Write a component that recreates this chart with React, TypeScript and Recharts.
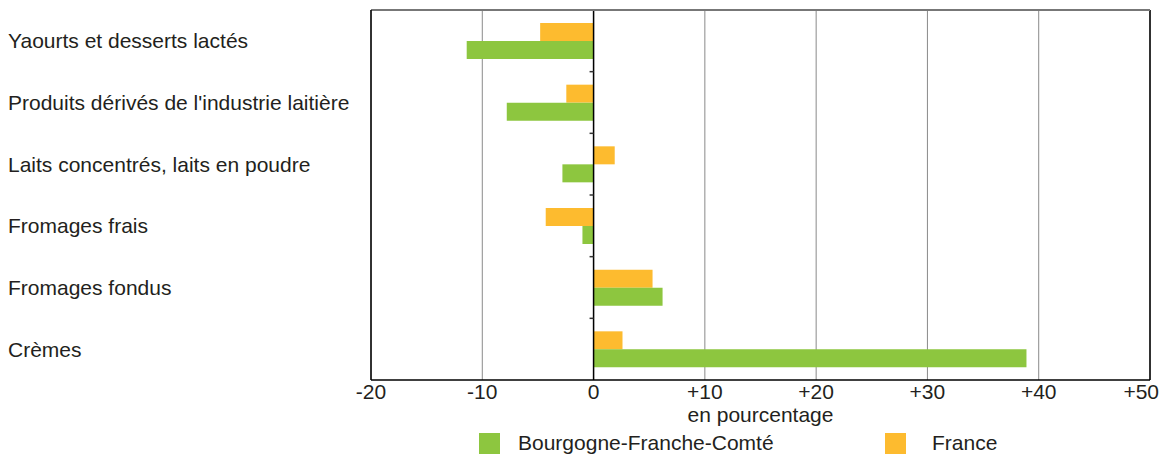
import React from 'react';
import { BarChart, Bar, XAxis, YAxis, CartesianGrid, ReferenceLine } from 'recharts';

// Évolution par produit laitier, en pourcentage
const categories = [
  'Yaourts et desserts lactés',
  "Produits dérivés de l'industrie laitière",
  'Laits concentrés, laits en poudre',
  'Fromages frais',
  'Fromages fondus',
  'Crèmes',
];
const bfcValues = [-11.4, -7.8, -2.8, -1.0, 6.2, 38.9];
const franceValues = [-4.8, -2.45, 1.9, -4.3, 5.3, 2.6];
const xTicks = [-20, -10, 0, 10, 20, 30, 40, 50];

const seriesNames = ['Bourgogne-Franche-Comté', 'France'];
const GREEN = '#8DC63F';
const ORANGE = '#FDBB2F';
const TEXT = '#231F20';
const FONT = '"Liberation Sans", Arial, sans-serif';
const FS = 21;

const data = categories.map((name, i) => ({
  name,
  bfc: bfcValues[i],
  france: franceValues[i],
}));

const CategoryTick = (props: any) => {
  const { y, payload } = props;
  return (
    <text x={8} y={y} textAnchor="start" dominantBaseline="central" fontSize={FS} fill={TEXT} fontFamily={FONT}>
      {payload.value}
    </text>
  );
};

const fmt = (v: number) => (v > 0 ? `+${v}` : `${v}`);

// last label is pulled in so it stays inside the picture
const ValueTick = (props: any) => {
  const { x, y, payload } = props;
  const last = payload.value === xTicks[xTicks.length - 1];
  return (
    <text
      x={last ? x + 9 : x}
      y={y}
      dy={11}
      textAnchor={last ? 'end' : 'middle'}
      fontSize={FS}
      fill={TEXT}
      fontFamily={FONT}
    >
      {fmt(payload.value)}
    </text>
  );
};

// zero line with small ticks at the category boundaries
const ZeroLine = (props: any) => {
  const { x1, y1, y2 } = props;
  const step = (y2 - y1) / categories.length;
  const marks = categories.slice(1).map((_, i) => y1 + step * (i + 1));
  return (
    <g>
      <line x1={x1} y1={y1} x2={x1} y2={y2} stroke="#000" strokeWidth={1.5} />
      {marks.map((m, i) => (
        <line key={i} x1={x1 - 4} y1={m} x2={x1} y2={m} stroke="#333" strokeWidth={1.5} />
      ))}
    </g>
  );
};

const App = () => {
  return (
    <div style={{ position: 'absolute', left: 0, top: 0, width: 1163, height: 455, background: '#fff', fontFamily: FONT }}>
      <BarChart
        width={1163}
        height={455}
        data={data}
        layout="vertical"
        margin={{ top: 9, right: 13, bottom: 45, left: 0 }}
        barGap={0}
        barSize={18}
      >
        <CartesianGrid horizontal={false} stroke="#8a8a8a" />
        <XAxis
          type="number"
          domain={[-20, 50]}
          ticks={xTicks}
          interval={0}
          tickLine={false}
          axisLine={{ stroke: '#000', strokeWidth: 1.5 }}
          height={30}
          tick={<ValueTick />}
        />
        <XAxis
          xAxisId="top"
          orientation="top"
          type="number"
          domain={[-20, 50]}
          tick={false}
          tickLine={false}
          axisLine={{ stroke: '#777', strokeWidth: 2 }}
          height={1}
        />
        <YAxis
          type="category"
          dataKey="name"
          width={371}
          tickLine={false}
          axisLine={{ stroke: '#000', strokeWidth: 1.5 }}
          tick={<CategoryTick />}
        />
        <ReferenceLine x={50} stroke="#000" strokeWidth={1.5} />
        <Bar dataKey="france" name={seriesNames[1]} fill={ORANGE} isAnimationActive={false} />
        <Bar dataKey="bfc" name={seriesNames[0]} fill={GREEN} isAnimationActive={false} />
        <ReferenceLine x={0} shape={<ZeroLine />} />
      </BarChart>
      <div
        style={{
          position: 'absolute',
          left: 371,
          width: 779,
          textAlign: 'center',
          top: 404,
          fontSize: FS,
          lineHeight: '21px',
          color: TEXT,
        }}
      >
        en pourcentage
      </div>
      <div style={{ position: 'absolute', left: 479, top: 433, width: 21, height: 21, background: GREEN }} />
      <div style={{ position: 'absolute', left: 518, top: 432, fontSize: FS, lineHeight: '21px', color: TEXT }}>
        {seriesNames[0]}
      </div>
      <div style={{ position: 'absolute', left: 885, top: 433, width: 21, height: 21, background: ORANGE }} />
      <div style={{ position: 'absolute', left: 932, top: 432, fontSize: FS, lineHeight: '21px', color: TEXT }}>
        {seriesNames[1]}
      </div>
    </div>
  );
};

export default App;
